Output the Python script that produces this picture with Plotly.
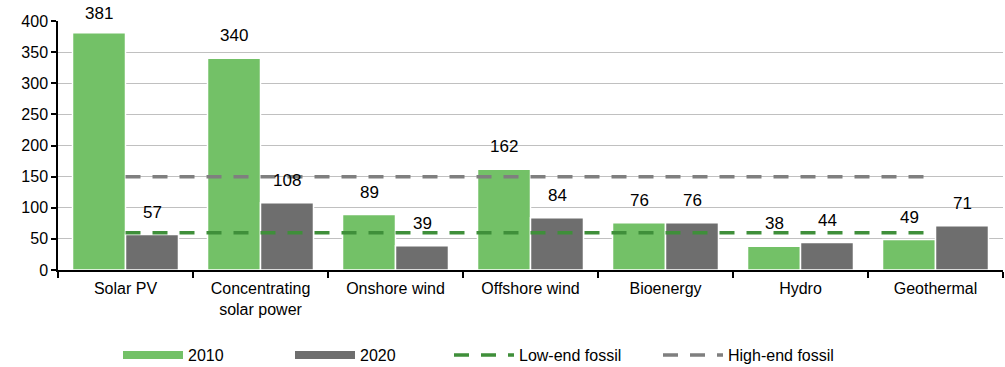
import plotly.graph_objects as go

categories = ["Solar PV", "Concentrating<br>solar power", "Onshore wind", "Offshore wind",
              "Bioenergy", "Hydro", "Geothermal"]
values_2010 = [381, 340, 89, 162, 76, 38, 49]
values_2020 = [57, 108, 39, 84, 76, 44, 71]
low_end_fossil = 60
high_end_fossil = 150
y_ticks = [0, 50, 100, 150, 200, 250, 300, 350, 400]

GREEN = "#73C167"
GREY = "#6E6E6E"
DARK_GREEN = "#3F8F3A"
MID_GREY = "#7F7F7F"
FONT = "Liberation Sans, Arial, sans-serif"
DASH = "15px,12px"

W, H = 1005, 367
M_TOP, M_BOTTOM = 21, 97
Y_MAX = 400
PX_PER_UNIT = (H - M_TOP - M_BOTTOM) / Y_MAX

fig = go.Figure()

for vals, color in ((values_2010, GREEN), (values_2020, GREY)):
    fig.add_trace(go.Bar(
        x=categories, y=vals,
        marker=dict(color=color, line=dict(color="white", width=1.5)),
        showlegend=False, hoverinfo="x+y",
    ))

# value labels above each bar; kept inside the figure when a bar is near the top
for vals, shift in ((values_2010, -26.5), (values_2020, 26.5)):
    for cat, v in zip(categories, vals):
        headroom = (Y_MAX - v) * PX_PER_UNIT + M_TOP
        fig.add_annotation(
            x=cat, y=v, text=str(v), showarrow=False, xshift=shift,
            yshift=min(11, headroom - 25),
            yanchor="bottom", font=dict(size=17, color="black", family=FONT),
        )

fig.add_trace(go.Scatter(
    x=categories, y=[low_end_fossil] * len(categories), mode="lines",
    line=dict(color=DARK_GREEN, width=3.5, dash=DASH), showlegend=False,
))
fig.add_trace(go.Scatter(
    x=categories, y=[high_end_fossil] * len(categories), mode="lines",
    line=dict(color=MID_GREY, width=3.5, dash=DASH), showlegend=False,
))

# one legend per entry so each can be placed independently
legend_items = [
    ("2010", GREEN, "solid", 8, 118),
    ("2020", GREY, "solid", 8, 290),
    ("Low-end fossil", DARK_GREEN, DASH, 3.5, 449),
    ("High-end fossil", MID_GREY, DASH, 3.5, 658),
]
legend_layout = {}
for i, (name, color, dash, w, xpx) in enumerate(legend_items):
    key = "legend" if i == 0 else f"legend{i + 1}"
    fig.add_trace(go.Scatter(
        x=[None], y=[None], mode="lines", name=name, legend=key,
        line=dict(color=color, width=w, dash=dash),
    ))
    legend_layout[key] = dict(
        orientation="h", xref="container", yref="container",
        x=xpx / W, y=1 - 355 / H, xanchor="left", yanchor="middle",
        itemwidth=60, font=dict(size=16, family=FONT, color="black"),
        bgcolor="rgba(0,0,0,0)",
    )

fig.update_layout(
    width=W, height=H,
    margin=dict(l=58, r=2, t=M_TOP, b=M_BOTTOM, autoexpand=False),
    paper_bgcolor="white", plot_bgcolor="white",
    barmode="group", bargap=0.215, bargroupgap=0,
    font=dict(family=FONT, size=16, color="black"),
    showlegend=True,
    **legend_layout,
)

fig.update_xaxes(
    type="category", tickson="boundaries", ticks="outside", ticklen=6,
    tickcolor="black", tickwidth=1.5, showline=True, linecolor="black", linewidth=1.5,
    tickfont=dict(size=16, family=FONT), showgrid=False, ticklabelstandoff=3,
)
fig.update_yaxes(
    range=[0, Y_MAX], tickvals=y_ticks, ticks="outside", ticklen=5,
    tickcolor="black", tickwidth=1.5, showline=True, linecolor="black", linewidth=1.5,
    showgrid=True, gridcolor="#C0C0C0", gridwidth=1, zeroline=False,
    tickfont=dict(size=16, family=FONT),
)

fig.write_html("out.html")
